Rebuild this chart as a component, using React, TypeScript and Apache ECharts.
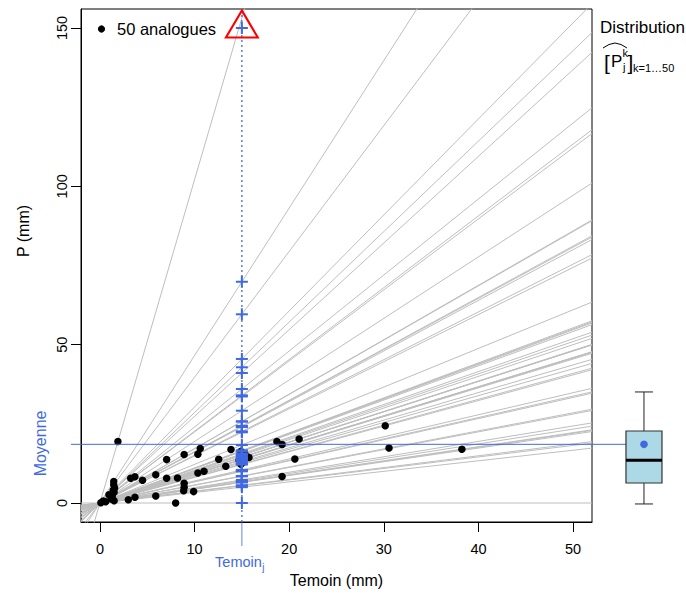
import React, { useEffect, useRef } from "react";
import * as echarts from "echarts";

// Analogues: Temoin (mm) and P (mm)
const TEMOIN = [
  1.9, 0.1, 0.35, 1.46, 1.46, 1.55, 1.5, 0.95, 1.2, 1.5,
  3.0, 3.7, 3.25, 3.7, 4.5, 5.9, 5.9, 7.05, 7.05, 8.0,
  8.2, 8.9, 8.9, 8.9, 8.85, 9.9, 10.35, 10.6, 10.35, 11.0,
  12.55, 13.3, 13.85, 14.9, 15.75, 18.7, 19.25, 21.05, 20.6, 19.25,
  30.15, 30.55, 38.25, 0.6, 1.3, 1.4, 15.1, 14.7, 15.3, 14.9,
];
const PRECIP = [
  19.4, 0.1, 0.6, 6.8, 5.8, 4.7, 3.4, 2.6, 1.3, 0.7,
  1.0, 1.8, 7.8, 8.3, 7.2, 8.9, 2.2, 13.7, 7.8, 0.0,
  7.9, 15.3, 6.2, 5.0, 3.9, 3.6, 15.4, 17.2, 9.5, 10.0,
  13.8, 11.6, 16.9, 16.3, 14.4, 19.4, 18.5, 20.2, 13.9, 8.35,
  24.4, 17.4, 17.0, 0.4, 2.1, 4.0, 12.8, 13.5, 15.6, 12.2,
];
const TEMOIN_J = 15;
const Y_CAP = 150;
const MEAN_P = 18.8;
const BOX_STATS = [0, 6.6, 13.8, 23.0, 35.3]; // min, Q1, median, Q3, max
const X_TICKS = [0, 10, 20, 30, 40, 50];
const Y_TICKS = [0, 50, 100, 150];

const X_MIN = -2, X_MAX = 52, Y_MIN = -6, Y_MAX = 156;

const FONT = "'Liberation Sans', Arial, Helvetica, sans-serif";
const BLUE = "#4169E1";
const GRAY = "#BEBEBE";

const G1 = { left: 81, top: 9, width: 511, height: 514 };
const G2 = { left: 592, top: 9, width: 94, height: 514 };
const BOX_POS = 0.553;
const MEAN_TICK_LEN = 10;

const txt = (x: number, y: number, text: string, fontSize: number, extra: any = {}) => ({
  type: "text",
  x,
  y,
  ...extra,
  style: {
    text,
    fill: extra.fill || "#000",
    fontSize,
    fontFamily: FONT,
    align: extra.align || "left",
    verticalAlign: "middle",
    textAlign: extra.align || "left",
    textVerticalAlign: "middle",
  },
});

export default function App() {
  const ref = useRef<HTMLDivElement>(null);

  useEffect(() => {
    const chart = echarts.init(ref.current!, null, { renderer: "svg" });

    const slopes = TEMOIN.map((t, i) => (t === 0 ? 0 : PRECIP[i] / t));
    const estimates = slopes.map((s) => s * TEMOIN_J);
    const crossData = estimates.map((v) => [TEMOIN_J, Math.min(v, Y_CAP)]);
    const cappedData = estimates.filter((v) => v > Y_CAP).map(() => [TEMOIN_J, Y_CAP]);

    const lineSeries = slopes.map((s) => ({
      type: "line",
      xAxisIndex: 0,
      yAxisIndex: 0,
      data: [
        [X_MIN, X_MIN * s],
        [X_MAX, X_MAX * s],
      ],
      showSymbol: false,
      silent: true,
      clip: true,
      lineStyle: { color: GRAY, width: 1 },
      z: 1,
    }));

    const option: any = {
      animation: false,
      grid: [
        { ...G1, show: true, borderColor: "#000", borderWidth: 1, backgroundColor: "transparent" },
        { ...G2, show: false },
      ],
      xAxis: [
        {
          type: "value",
          gridIndex: 0,
          min: X_MIN,
          max: X_MAX,
          axisLine: { show: true, onZero: false, lineStyle: { color: "#000" } },
          axisTick: { show: true, length: 10, inside: false, customValues: X_TICKS, lineStyle: { color: "#000" } },
          axisLabel: { customValues: X_TICKS, fontSize: 14.5, color: "#000", margin: 19, fontFamily: FONT },
          splitLine: { show: false },
          name: "Temoin (mm)",
          nameLocation: "middle",
          nameGap: 50,
          nameTextStyle: { fontSize: 16, color: "#000", fontFamily: FONT },
        },
        { type: "value", gridIndex: 1, min: 0, max: 1, show: false },
      ],
      yAxis: [
        {
          type: "value",
          gridIndex: 0,
          min: Y_MIN,
          max: Y_MAX,
          axisLine: { show: true, onZero: false, lineStyle: { color: "#000" } },
          axisTick: { show: true, length: 10, inside: false, customValues: Y_TICKS, lineStyle: { color: "#000" } },
          axisLabel: { customValues: Y_TICKS, fontSize: 14.5, color: "#000", margin: 12, rotate: 90, fontFamily: FONT },
          splitLine: { show: false },
        },
        { type: "value", gridIndex: 1, min: Y_MIN, max: Y_MAX, show: false },
      ],
      graphic: [
        txt(23, 231, "P (mm)", 16, { rotation: Math.PI / 2, align: "center" }),
        { type: "circle", shape: { cx: 101.5, cy: 29, r: 3.6 }, style: { fill: "#000" } },
        txt(117, 29, "50 analogues", 16.5),
        txt(600, 27, "Distribution", 17),
        {
          type: "polyline",
          shape: { points: [[603, 48], [609, 44.5], [615, 43], [621, 44.5], [627, 48]] },
          style: { stroke: "#000", lineWidth: 1, fill: "none" },
        },
        txt(604, 62, "[", 21),
        txt(611, 61, "P", 17),
        txt(622.5, 53, "k", 11),
        txt(623, 67, "j", 11),
        txt(627.5, 62, "]", 21),
        txt(633, 68, "k=1…50", 11),
      ],
      series: [
        ...lineSeries,
        {
          type: "line",
          xAxisIndex: 0,
          yAxisIndex: 0,
          data: [
            [TEMOIN_J, Y_MIN],
            [TEMOIN_J, Y_MAX],
          ],
          showSymbol: false,
          silent: true,
          lineStyle: { color: BLUE, width: 1.3, type: [2, 3] },
          z: 2,
        },
        {
          type: "custom",
          xAxisIndex: 0,
          yAxisIndex: 0,
          clip: false,
          silent: true,
          z: 3,
          data: [[X_MIN, MEAN_P]],
          renderItem: (params: any, api: any) => {
            const p = api.coord([api.value(0), api.value(1)]);
            return txt(40, p[1], "Moyenne", 16, { rotation: Math.PI / 2, align: "center", fill: BLUE });
          },
        },
        {
          type: "custom",
          xAxisIndex: 0,
          yAxisIndex: 0,
          clip: false,
          silent: true,
          z: 3,
          data: [[TEMOIN_J, Y_MIN]],
          renderItem: (params: any, api: any) => {
            const p = api.coord([api.value(0), api.value(1)]);
            return {
              type: "group",
              children: [
                { type: "line", shape: { x1: p[0], y1: p[1], x2: p[0], y2: p[1] + 24 }, style: { stroke: BLUE, lineWidth: 1, opacity: 0.8 } },
                txt(p[0] + 20, p[1] + 40, "Temoin", 14.5, { align: "right", fill: BLUE }),
                txt(p[0] + 20.5, p[1] + 45, "j", 10, { fill: BLUE }),
              ],
            };
          },
        },
        {
          type: "scatter",
          xAxisIndex: 0,
          yAxisIndex: 0,
          data: TEMOIN.map((t, i) => [t, PRECIP[i]]),
          symbol: "circle",
          symbolSize: 7.5,
          itemStyle: { color: "#000", opacity: 1 },
          silent: true,
          z: 4,
        },
        {
          type: "custom",
          xAxisIndex: 0,
          yAxisIndex: 0,
          clip: false,
          silent: true,
          z: 5,
          data: crossData,
          renderItem: (params: any, api: any) => {
            const p = api.coord([api.value(0), api.value(1)]);
            const h = 6;
            return {
              type: "group",
              children: [
                { type: "line", shape: { x1: p[0] - h, y1: p[1], x2: p[0] + h, y2: p[1] }, style: { stroke: BLUE, lineWidth: 2 } },
                { type: "line", shape: { x1: p[0], y1: p[1] - h, x2: p[0], y2: p[1] + h }, style: { stroke: BLUE, lineWidth: 2 } },
              ],
            };
          },
        },
        {
          type: "scatter",
          xAxisIndex: 0,
          yAxisIndex: 0,
          data: cappedData,
          symbol: "triangle",
          symbolSize: [32, 27],
          symbolOffset: [0, -4],
          itemStyle: { color: "transparent", borderColor: "#FF0000", borderWidth: 2, opacity: 1 },
          silent: true,
          z: 6,
        },
        {
          type: "custom",
          xAxisIndex: 1,
          yAxisIndex: 1,
          clip: false,
          silent: true,
          z: 6,
          data: [[BOX_POS, ...BOX_STATS, MEAN_P]],
          renderItem: (params: any, api: any) => {
            const x = api.value(0);
            const cx = api.coord([x, 0])[0];
            const ys = [1, 2, 3, 4, 5].map((k) => api.coord([x, api.value(k)])[1]);
            const ym = api.coord([x, api.value(6)])[1];
            const hw = 18;
            const cw = 9;
            const dark = "#222";
            return {
              type: "group",
              children: [
                {
                  type: "line",
                  shape: { x1: G1.left - MEAN_TICK_LEN, y1: ym, x2: cx, y2: ym },
                  style: { stroke: BLUE, lineWidth: 1 },
                },
                { type: "line", shape: { x1: cx, y1: ys[0], x2: cx, y2: ys[1] }, style: { stroke: dark, lineWidth: 1 } },
                { type: "line", shape: { x1: cx, y1: ys[3], x2: cx, y2: ys[4] }, style: { stroke: dark, lineWidth: 1 } },
                { type: "line", shape: { x1: cx - cw, y1: ys[0], x2: cx + cw, y2: ys[0] }, style: { stroke: dark, lineWidth: 1 } },
                { type: "line", shape: { x1: cx - cw, y1: ys[4], x2: cx + cw, y2: ys[4] }, style: { stroke: dark, lineWidth: 1 } },
                {
                  type: "rect",
                  shape: { x: cx - hw, y: ys[3], width: 2 * hw, height: ys[1] - ys[3] },
                  style: { fill: "#ADD8E6", stroke: "#333", lineWidth: 1.2 },
                },
                { type: "line", shape: { x1: cx - hw, y1: ys[2], x2: cx + hw, y2: ys[2] }, style: { stroke: "#000", lineWidth: 3 } },
                { type: "circle", shape: { cx: cx, cy: ym, r: 3.8 }, style: { fill: BLUE } },
              ],
            };
          },
        },
      ],
    };

    chart.setOption(option);
    return () => chart.dispose();
  }, []);

  return (
    <div
      ref={ref}
      style={{ position: "absolute", left: 0, top: 0, width: 686, height: 593 }}
    />
  );
}
